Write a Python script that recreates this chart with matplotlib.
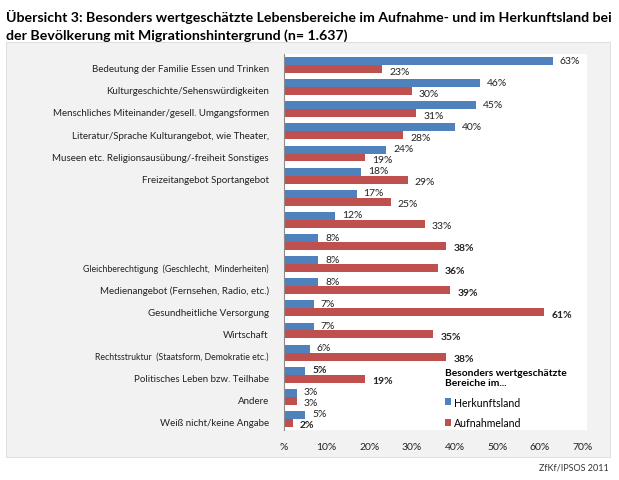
import numpy as np
import matplotlib.pyplot as plt
from matplotlib.patches import Rectangle

plt.rcParams['font.family'] = ['Lato', 'DejaVu Sans']

categories = [
    'Bedeutung der Familie Essen und Trinken',
    'Kulturgeschichte/Sehenswürdigkeiten',
    'Menschliches Miteinander/gesell. Umgangsformen',
    'Literatur/Sprache Kulturangebot, wie Theater,',
    'Museen etc. Religionsausübung/-freiheit Sonstiges',
    'Freizeitangebot Sportangebot',
    '',
    '',
    '',
    'Gleichberechtigung  (Geschlecht,  Minderheiten)',
    'Medienangebot (Fernsehen, Radio, etc.)',
    'Gesundheitliche Versorgung',
    'Wirtschaft',
    'Rechtsstruktur  (Staatsform, Demokratie etc.)',
    'Politisches Leben bzw. Teilhabe',
    'Andere',
    'Weiß nicht/keine Angabe',
]
herkunftsland = [63, 46, 45, 40, 24, 18, 17, 12, 8, 8, 8, 7, 7, 6, 5, 3, 5]
aufnahmeland = [23, 30, 31, 28, 19, 29, 25, 33, 38, 36, 39, 61, 35, 38, 19, 3, 2]
xticks = [0, 10, 20, 30, 40, 50, 60, 70]
xticklabels = ['%', '10%', '20%', '30%', '40%', '50%', '60%', '70%']

blue = '#4f81bd'
red = '#c0504d'
bold_red = {8, 9, 10, 11, 12, 13, 14, 16}
bold_blue = {14}
small_labels = {9, 13}

W, H = 619, 481
fig = plt.figure(figsize=(W / 100, H / 100), dpi=100)
fig.patch.set_facecolor('white')

# grey chart area
fig.patches.append(Rectangle((6 / W, 1 - 458 / H), 604 / W, 415 / H,
                             transform=fig.transFigure, facecolor='#f2f2f2',
                             edgecolor='#d9d9d9', lw=0.6, zorder=-5))

ax = fig.add_axes([284 / W, 1 - 431 / H, 303 / W, 376 / H])
ax.set_zorder(2)
ax.set_facecolor('white')

y = np.arange(len(categories))
h = 0.36
ax.barh(y - h / 2, herkunftsland, height=h, color=blue, label='Herkunftsland')
ax.barh(y + h / 2, aufnahmeland, height=h, color=red, label='Aufnahmeland')

for i in range(len(categories)):
    ax.annotate(f'{herkunftsland[i]}%', (herkunftsland[i], y[i] - h / 2),
                xytext=(7, 1), textcoords='offset pixels', va='center',
                ha='left', fontsize=7.5, color='#222222',
                fontweight='bold' if i in bold_blue else 'normal')
    ax.annotate(f'{aufnahmeland[i]}%', (aufnahmeland[i], y[i] + h / 2),
                xytext=(7, -2), textcoords='offset pixels', va='center',
                ha='left', fontsize=7.5, color='#222222',
                fontweight='bold' if i in bold_red else 'normal')

ax.set_xlim(0, 71)
ax.set_ylim(len(categories) - 0.5, -0.5)
ax.set_xticks(xticks)
ax.set_xticklabels(xticklabels, fontsize=7.5)
ax.set_yticks(y + 0.12)
ax.set_yticklabels(categories, fontsize=7)
for i, lab in enumerate(ax.get_yticklabels()):
    if i in small_labels:
        lab.set_fontsize(6.3)
ax.tick_params(axis='both', length=0, colors='#222222')
ax.tick_params(axis='y', pad=11)
ax.tick_params(axis='x', pad=9)
for s in ['top', 'right', 'bottom']:
    ax.spines[s].set_visible(False)
ax.spines['left'].set_color('#8c8c8c')
ax.spines['left'].set_linewidth(0.8)

leg = ax.legend(loc='lower left', bbox_to_anchor=(0.50, -0.02), frameon=False,
                title='Besonders wertgeschätzte\nBereiche im...',
                fontsize=7.6, title_fontsize=7.4, handlelength=0.55,
                handleheight=0.6, handletextpad=0.3, labelspacing=0.9,
                alignment='left')
leg.get_title().set_fontweight('bold')

fig.text(6 / W, 1 - 17 / H,
         'Übersicht 3: Besonders wertgeschätzte Lebensbereiche im Aufnahme- und im Herkunftsland bei',
         fontsize=10.2, fontweight='bold', va='center', ha='left')
fig.text(6 / W, 1 - 36 / H,
         'der Bevölkerung mit Migrationshintergrund (n= 1.637)',
         fontsize=10.2, fontweight='bold', va='center', ha='left')
fig.text(609 / W, 1 - 468 / H, 'ZfKf/IPSOS 2011', fontsize=6.5,
         ha='right', va='center', color='#333333')

fig.savefig('out.png', dpi=100)
